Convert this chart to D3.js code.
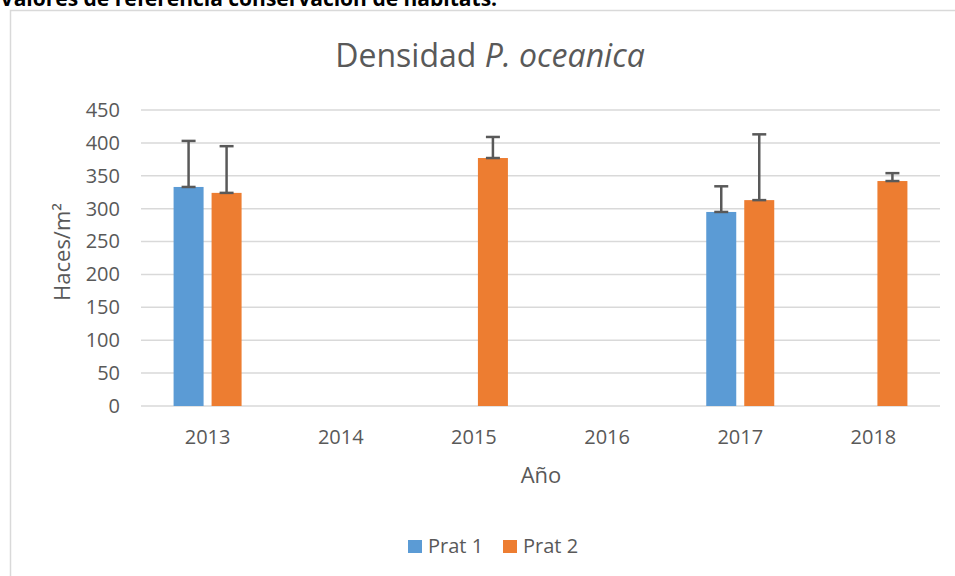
<!DOCTYPE html>
<html>
<head>
<meta charset="utf-8">
<script src="https://cdn.jsdelivr.net/npm/d3@7"></script>
<style>
  body { margin: 0; background: #fff; }
  svg text { font-family: "Open Sans", "Noto Sans", sans-serif; }
</style>
</head>
<body>
<svg id="chart" width="955" height="576"></svg>
<script>
var years = ['2013', '2014', '2015', '2016', '2017', '2018'];
var seriesNames = ['Prat 1', 'Prat 2'];
var prat1 = [333, null, null, null, 295, null];
var prat2 = [324, null, 377, null, 313, 342];
var prat1Err = [70, null, null, null, 39, null];
var prat2Err = [71, null, 32, null, 100, 12];
var yTicks = [0, 50, 100, 150, 200, 250, 300, 350, 400, 450];
var colors = ['#5b9bd5', '#ed7d31'];

var svg = d3.select('#chart');

// caption above the chart frame, cut off by the page edge
svg.append('text')
  .attr('x', 0).attr('y', 6)
  .attr('font-family', '"Liberation Sans", Arial, sans-serif')
  .attr('font-size', 21).attr('font-weight', 'bold')
  .attr('fill', '#000')
  .text('Valores de referencia conservación de hábitats.');

svg.append('rect')
  .attr('x', 10.5).attr('y', 10.5)
  .attr('width', 960).attr('height', 580)
  .attr('fill', '#fff').attr('stroke', '#d9d9d9').attr('stroke-width', 1.5);

var margin = { left: 141, right: 15, top: 110, bottom: 170 };
var w = 955 - margin.left - margin.right;
var h = 576 - margin.top - margin.bottom;

var x = d3.scaleBand().domain(years).range([0, w]);
var y = d3.scaleLinear().domain([0, 450]).range([h, 0]);

var g = svg.append('g').attr('transform', 'translate(' + margin.left + ',' + margin.top + ')');

// gridlines
g.selectAll('line.grid')
  .data(yTicks)
  .enter().append('line')
    .attr('class', 'grid')
    .attr('x1', 0).attr('x2', w)
    .attr('y1', function(d) { return y(d); })
    .attr('y2', function(d) { return y(d); })
    .attr('stroke', '#d9d9d9').attr('stroke-width', 1.5);

var yAxis = g.append('g')
  .call(d3.axisLeft(y).tickValues(yTicks).tickSize(0).tickPadding(21));
yAxis.select('.domain').remove();
yAxis.selectAll('text').attr('font-size', 20).attr('fill', '#595959');

var xAxis = g.append('g')
  .attr('transform', 'translate(0,' + h + ')')
  .call(d3.axisBottom(x).tickSize(0).tickPadding(24));
xAxis.select('.domain').remove();
xAxis.selectAll('text').attr('font-size', 20).attr('fill', '#595959');

var barW = 30, gap = 8;
var sets = [
  { vals: prat1, errs: prat1Err, off: -(gap / 2 + barW) },
  { vals: prat2, errs: prat2Err, off: gap / 2 }
];

sets.forEach(function(s, si) {
  var data = years.map(function(yr, i) { return { yr: yr, v: s.vals[i], e: s.errs[i] }; })
    .filter(function(d) { return d.v !== null; });

  g.selectAll('rect.s' + si)
    .data(data)
    .enter().append('rect')
      .attr('class', 's' + si)
      .attr('x', function(d) { return x(d.yr) + x.bandwidth() / 2 + s.off; })
      .attr('y', function(d) { return y(d.v); })
      .attr('width', barW)
      .attr('height', function(d) { return h - y(d.v); })
      .attr('fill', colors[si]);

  var eb = g.selectAll('g.e' + si)
    .data(data)
    .enter().append('g')
      .attr('class', 'e' + si)
      .attr('stroke', '#595959').attr('stroke-width', 2.5);
  eb.append('line')
    .attr('x1', function(d) { return x(d.yr) + x.bandwidth() / 2 + s.off + barW / 2; })
    .attr('x2', function(d) { return x(d.yr) + x.bandwidth() / 2 + s.off + barW / 2; })
    .attr('y1', function(d) { return y(d.v); })
    .attr('y2', function(d) { return y(d.v + d.e); });
  [0, 1].forEach(function(k) {
    eb.append('line')
      .attr('x1', function(d) { return x(d.yr) + x.bandwidth() / 2 + s.off + barW / 2 - 7; })
      .attr('x2', function(d) { return x(d.yr) + x.bandwidth() / 2 + s.off + barW / 2 + 7; })
      .attr('y1', function(d) { return k ? y(d.v + d.e) : y(d.v); })
      .attr('y2', function(d) { return k ? y(d.v + d.e) : y(d.v); });
  });
});

// title
var title = svg.append('text')
  .attr('x', 490).attr('y', 67)
  .attr('text-anchor', 'middle')
  .attr('font-size', 32).attr('fill', '#595959');
title.append('tspan').text('Densidad ');
title.append('tspan').attr('font-style', 'italic').text('P. oceanica');

// axis titles
svg.append('text')
  .attr('transform', 'translate(70,252) rotate(-90)')
  .attr('text-anchor', 'middle')
  .attr('font-size', 22).attr('fill', '#595959')
  .text('Haces/m²');

svg.append('text')
  .attr('x', 541).attr('y', 483)
  .attr('text-anchor', 'middle')
  .attr('font-size', 22).attr('fill', '#595959')
  .text('Año');

// legend
var legend = svg.append('g').attr('transform', 'translate(408,540)');
seriesNames.forEach(function(n, i) {
  var lg = legend.append('g').attr('transform', 'translate(' + (i * 95) + ',0)');
  lg.append('rect').attr('width', 14).attr('height', 13).attr('fill', colors[i]);
  lg.append('text').attr('x', 20).attr('y', 13)
    .attr('font-size', 20).attr('fill', '#595959').text(n);
});
</script>
</body>
</html>
